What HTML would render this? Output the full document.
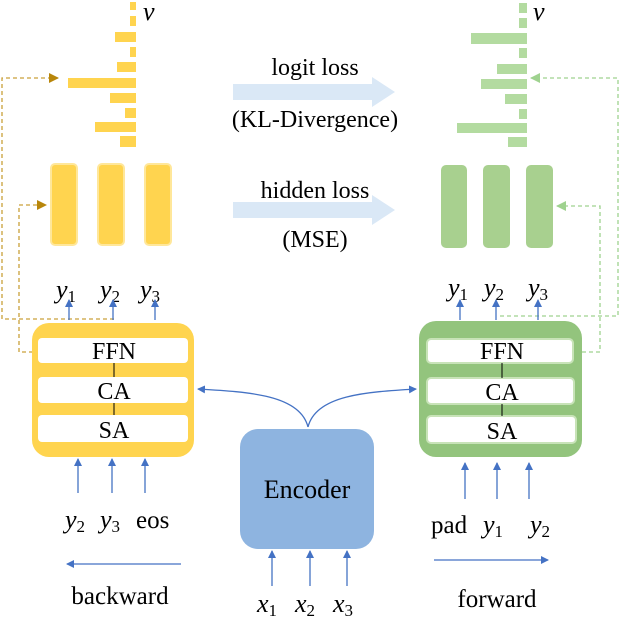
<!DOCTYPE html>
<html><head><style>
html,body{margin:0;padding:0;background:#fff;}
svg{display:block;}
text{font-family:"Liberation Serif",serif;fill:#000;}
.it{font-style:italic;}
</style></head><body>
<svg width="620" height="624" viewBox="0 0 620 624" xmlns="http://www.w3.org/2000/svg">
<defs>
<marker id="ab" markerWidth="8" markerHeight="8" refX="7" refY="4" orient="auto" markerUnits="userSpaceOnUse"><path d="M0,0 L8,4 L0,8 Z" fill="#4472c4"/></marker>
<marker id="ay" markerWidth="10" markerHeight="10" refX="9" refY="5" orient="auto" markerUnits="userSpaceOnUse"><path d="M0,0 L10,5 L0,10 Z" fill="#b8860b"/></marker>
<marker id="ag" markerWidth="10" markerHeight="10" refX="9" refY="5" orient="auto" markerUnits="userSpaceOnUse"><path d="M0,0 L10,5 L0,10 Z" fill="#9fd28f"/></marker>
</defs>
<g fill="#ffd44f">
<rect x="130" y="2" width="6" height="8"/><rect x="130" y="16" width="6" height="10"/>
<rect x="115" y="32" width="21" height="10"/><rect x="130" y="47" width="6" height="10"/>
<rect x="117" y="62" width="19" height="10"/><rect x="68" y="78" width="68" height="10"/>
<rect x="110" y="93" width="26" height="10"/><rect x="125" y="108" width="11" height="10"/>
<rect x="95" y="122" width="41" height="10"/><rect x="120" y="136" width="16" height="11"/>
</g>
<text x="143" y="20" class="it" font-size="26">ν</text>
<g fill="#b3dba0">
<rect x="519" y="3" width="8" height="10"/><rect x="519" y="18" width="8" height="10"/>
<rect x="471" y="33" width="56" height="11"/><rect x="519" y="48" width="8" height="10"/>
<rect x="497" y="64" width="30" height="10"/><rect x="481" y="79" width="46" height="10"/>
<rect x="505" y="94" width="22" height="10"/><rect x="519" y="109" width="8" height="10"/>
<rect x="457" y="123" width="70" height="10"/><rect x="508" y="137" width="19" height="10"/>
</g>
<text x="533" y="20" class="it" font-size="26">ν</text>
<g fill="#ffd44f" stroke="#ffe79a" stroke-width="2">
<rect x="51" y="164" width="26" height="81" rx="4"/><rect x="98" y="164" width="26" height="81" rx="4"/><rect x="145" y="164" width="26" height="81" rx="4"/>
</g>
<g fill="#a8d08f">
<rect x="441" y="165" width="26" height="83" rx="5"/><rect x="483" y="165" width="27" height="83" rx="5"/><rect x="526" y="165" width="27" height="83" rx="5"/>
</g>
<text x="315" y="75" font-size="24" text-anchor="middle">logit loss</text>
<path d="M233,84 H372 V77 L395,92 L372,107 V100 H233 Z" fill="#dae8f6"/>
<text x="315" y="127" font-size="24" text-anchor="middle">(KL-Divergence)</text>
<text x="315" y="198" font-size="24" text-anchor="middle">hidden loss</text>
<path d="M233,202 H372 V195 L395,210 L372,225 V218 H233 Z" fill="#dae8f6"/>
<text x="315" y="247" font-size="24" text-anchor="middle">(MSE)</text>
<g fill="none" stroke="#c9a03a" stroke-width="1.3" stroke-dasharray="4,3">
<path d="M114,319 H2 V78 H58" marker-end="url(#ay)"/>
<path d="M33,352 H19 V205 H46" marker-end="url(#ay)"/>
</g>
<g fill="none" stroke="#9fd28f" stroke-width="1.3" stroke-dasharray="4,3">
<path d="M500,316 H618 V78 H531" marker-end="url(#ag)"/>
<path d="M582,352 H600 V206 H557" marker-end="url(#ag)"/>
</g>
<g font-size="26">
<text x="56" y="298" class="it">y<tspan font-size="17" dy="4" font-style="normal">1</tspan></text>
<text x="100" y="298" class="it">y<tspan font-size="17" dy="4" font-style="normal">2</tspan></text>
<text x="140" y="298" class="it">y<tspan font-size="17" dy="4" font-style="normal">3</tspan></text>
<text x="448" y="296" class="it">y<tspan font-size="17" dy="4" font-style="normal">1</tspan></text>
<text x="484" y="296" class="it">y<tspan font-size="17" dy="4" font-style="normal">2</tspan></text>
<text x="528" y="296" class="it">y<tspan font-size="17" dy="4" font-style="normal">3</tspan></text>
</g>
<g stroke="#4472c4" stroke-width="1.3" marker-end="url(#ab)">
<line x1="69" y1="320" x2="69" y2="300"/><line x1="113" y1="320" x2="113" y2="300"/><line x1="155" y1="320" x2="155" y2="300"/>
<line x1="460" y1="320" x2="460" y2="300"/><line x1="496" y1="320" x2="496" y2="300"/><line x1="538" y1="320" x2="538" y2="300"/>
</g>
<rect x="32" y="323" width="162" height="134" rx="17" fill="#ffd44f"/>
<g fill="#fff"><rect x="38" y="338" width="150" height="25" rx="4"/><rect x="38" y="377" width="150" height="26" rx="4"/><rect x="38" y="415" width="150" height="27" rx="4"/></g>
<line x1="114" y1="363" x2="114" y2="377" stroke="#000"/><line x1="114" y1="403" x2="114" y2="415" stroke="#000"/>
<g font-size="24" text-anchor="middle"><text x="114" y="359">FFN</text><text x="114" y="399">CA</text><text x="114" y="438">SA</text></g>
<rect x="419" y="321" width="163" height="136" rx="17" fill="#93c47d"/>
<g fill="#fff" stroke="#c8e3b8" stroke-width="2"><rect x="427" y="339" width="146" height="24" rx="4"/><rect x="427" y="378" width="147" height="26" rx="4"/><rect x="427" y="416" width="149" height="27" rx="4"/></g>
<line x1="502" y1="363" x2="502" y2="378" stroke="#000"/><line x1="502" y1="404" x2="502" y2="416" stroke="#000"/>
<g font-size="24" text-anchor="middle"><text x="502" y="359">FFN</text><text x="502" y="400">CA</text><text x="502" y="439">SA</text></g>
<rect x="240" y="429" width="134" height="120" rx="18" fill="#8eb4e0"/>
<text x="307" y="498" font-size="26" text-anchor="middle">Encoder</text>
<g fill="none" stroke="#4472c4" stroke-width="1.3">
<path d="M308,427 C300,395 250,392 198,389" marker-end="url(#ab)"/>
<path d="M308,427 C316,395 366,392 416,389" marker-end="url(#ab)"/>
</g>
<g stroke="#4472c4" stroke-width="1.3" marker-end="url(#ab)">
<line x1="78" y1="493" x2="78" y2="459"/><line x1="112" y1="493" x2="112" y2="459"/><line x1="145" y1="493" x2="145" y2="459"/>
<line x1="465" y1="499" x2="465" y2="463"/><line x1="497" y1="499" x2="497" y2="463"/><line x1="529" y1="499" x2="529" y2="463"/>
<line x1="272" y1="586" x2="272" y2="551"/><line x1="310" y1="586" x2="310" y2="551"/><line x1="347" y1="586" x2="347" y2="551"/>
<line x1="181" y1="564" x2="67" y2="564"/><line x1="434" y1="560" x2="548" y2="560"/>
</g>
<g font-size="26">
<text x="65" y="528" class="it">y<tspan font-size="17" dy="4" font-style="normal">2</tspan></text>
<text x="100" y="528" class="it">y<tspan font-size="17" dy="4" font-style="normal">3</tspan></text>
<text x="136" y="528" font-size="25">eos</text>
<text x="431" y="533" font-size="25">pad</text>
<text x="483" y="533" class="it">y<tspan font-size="17" dy="4" font-style="normal">1</tspan></text>
<text x="530" y="533" class="it">y<tspan font-size="17" dy="4" font-style="normal">2</tspan></text>
<text x="257" y="612" class="it">x<tspan font-size="17" dy="4" font-style="normal">1</tspan></text>
<text x="295" y="612" class="it">x<tspan font-size="17" dy="4" font-style="normal">2</tspan></text>
<text x="333" y="612" class="it">x<tspan font-size="17" dy="4" font-style="normal">3</tspan></text>
<text x="120" y="604" text-anchor="middle" font-size="25">backward</text>
<text x="497" y="607" text-anchor="middle" font-size="25">forward</text>
</g>
</svg>
</body></html>
